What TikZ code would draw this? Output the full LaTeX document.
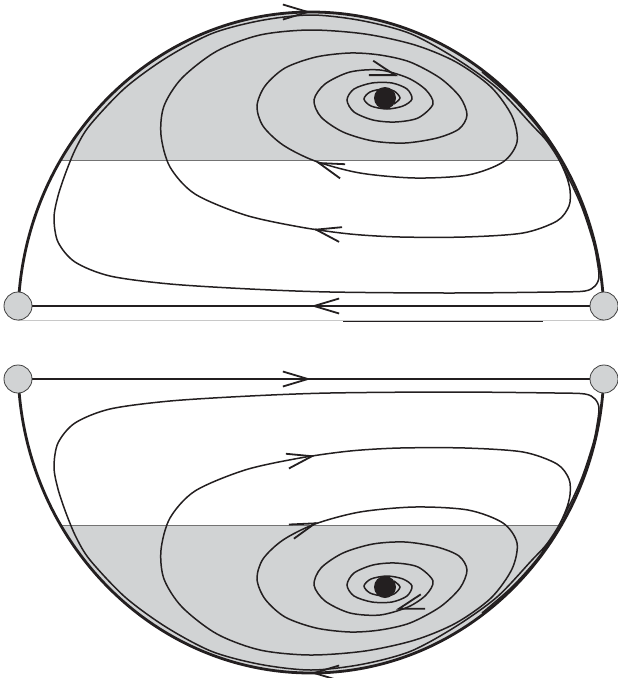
\documentclass[tikz,border=0pt]{standalone}
\usepackage{tikz}
\usetikzlibrary{arrows.meta,decorations.markings}
\usepackage{xcolor}
\definecolor{capgray}{RGB}{209,211,212}
\definecolor{ink}{RGB}{35,31,32}
\definecolor{rimgray}{RGB}{200,200,200}

% one half of the portrait: shaded cap, spiral orbit, flow marks, focus
\newcommand{\halfportrait}[2]{%
  \begin{scope}
    \clip (18,320) arc[start angle=180, end angle=360, x radius=293, y radius=308] -- cycle;
    \fill[capgray] (0,0) rectangle (618,160);
    \draw[cutline] (0,160) -- (618,160);
  \end{scope}
  \draw[orbit] plot[smooth] coordinates {
    (394,104) (400,98) (394,91) (383,89) (370,92) (364,99) (371,106) (387,109) (403,106)
    (412,99) (407,89) (392,83) (372,83) (354,89) (347,100) (354,112) (373,120) (395,122) (418,118)
    (433,104) (426,90) (408,78) (380,70) (350,72) (325,84) (314,100) (321,117) (343,132) (373,141) (405,143) (437,138)
    (459,129) (467,115) (460,97) (440,78) (410,62) (380,55) (350,53) (316,57) (285,68) (265,86) (257,106) (263,126) (283,145) (315,161) (360,173) (415,178) (468,175)
    (503,162) (517,142) (512,116) (491,87) (456,62) (415,45) (365,34) (310,30) (260,35) (217,51) (182,78) (164,106) (161,135) (170,167) (195,194) (245,215) (300,227) (350,234) (400,237) (465,237)
    (523,233) (557,221) (569,206) (570,190) (566,175) (558,158) (546,140) (532,125) (497,88) (455,58) (410,33.5) (361,20.5) (311,15) (261,20.5) (212,33.5) (166,58) (125,88) (90,125) (76,148) (66,172) (58,196) (54,218) (58,242) (75,262) (110,276) (170,284) (250,289) (330,292) (450,293) (555,292) (585,291) (595,286) (599,277) (597,260) (593,241) (581,205) (563,167) (541,131) (513,99) (482,72)};
  \draw[orbit,#1] (396,75.4) -- (398,76);
  \draw[orbit,#1] (318,162.7) -- (316,162);
  \draw[orbit,#1] (315,229.4) -- (313,229);
  \node[focusdot] (#2) at (385,98) {};
}

\begin{document}
\begin{tikzpicture}[x=1pt, y=-1pt,
    flowtip/.tip={Straight Barb[length=25pt,width=15pt,line width=1.8pt]},
    fwd/.style={-{flowtip}},
    bwd/.style={{flowtip}-},
    orbit/.style={draw=ink, line width=1.5pt},
    cutline/.style={draw=black!55, line width=0.8pt},
    separatrix/.style={draw=ink, line width=2.8pt},
    midflow/.style={postaction={decorate},
        decoration={markings, mark=at position 0.5 with {\arrow{flowtip}}}},
    saddlept/.style={circle, draw=black!75, fill=capgray, line width=0.8pt,
        minimum size=28pt, inner sep=0pt},
    focusdot/.style={circle, fill=ink, minimum size=22pt, inner sep=0pt}
]
    \useasboundingbox (0,0) rectangle (618,678);

    % upper half, and the lower half as its mirror image
    \halfportrait{fwd}{ftop}
    \begin{scope}[shift={(0,685)}, yscale=-1]
        \halfportrait{bwd}{fbot}
    \end{scope}

    % saddles at infinity and the feet of the two half discs
    \coordinate (tl) at (18,306);
    \coordinate (tr) at (604,306);
    \coordinate (bl) at (18,379);
    \coordinate (br) at (604,379);
    \coordinate (tlfoot) at (18,320);
    \coordinate (trfoot) at (604,320);
    \coordinate (brhead) at (604,365);

    \draw[rimgray, line width=0.8pt] (tlfoot) -- (trfoot);
    \draw[ink, line width=1pt] (343,321) -- (543,321);

    \draw[separatrix, midflow] (tlfoot) arc[start angle=180, end angle=360, x radius=293, y radius=308];
    \draw[separatrix, midflow] (brhead) arc[start angle=0, end angle=180, x radius=293, y radius=308];
    \draw[ink, line width=2.8pt, midflow] (tr) -- (tl);
    \draw[ink, line width=1.1pt, midflow] (bl) -- (br);

    \node[saddlept] (tlpt) at (tl) {};
    \node[saddlept] (trpt) at (tr) {};
    \node[saddlept] (blpt) at (bl) {};
    \node[saddlept] (brpt) at (br) {};
\end{tikzpicture}
\end{document}
